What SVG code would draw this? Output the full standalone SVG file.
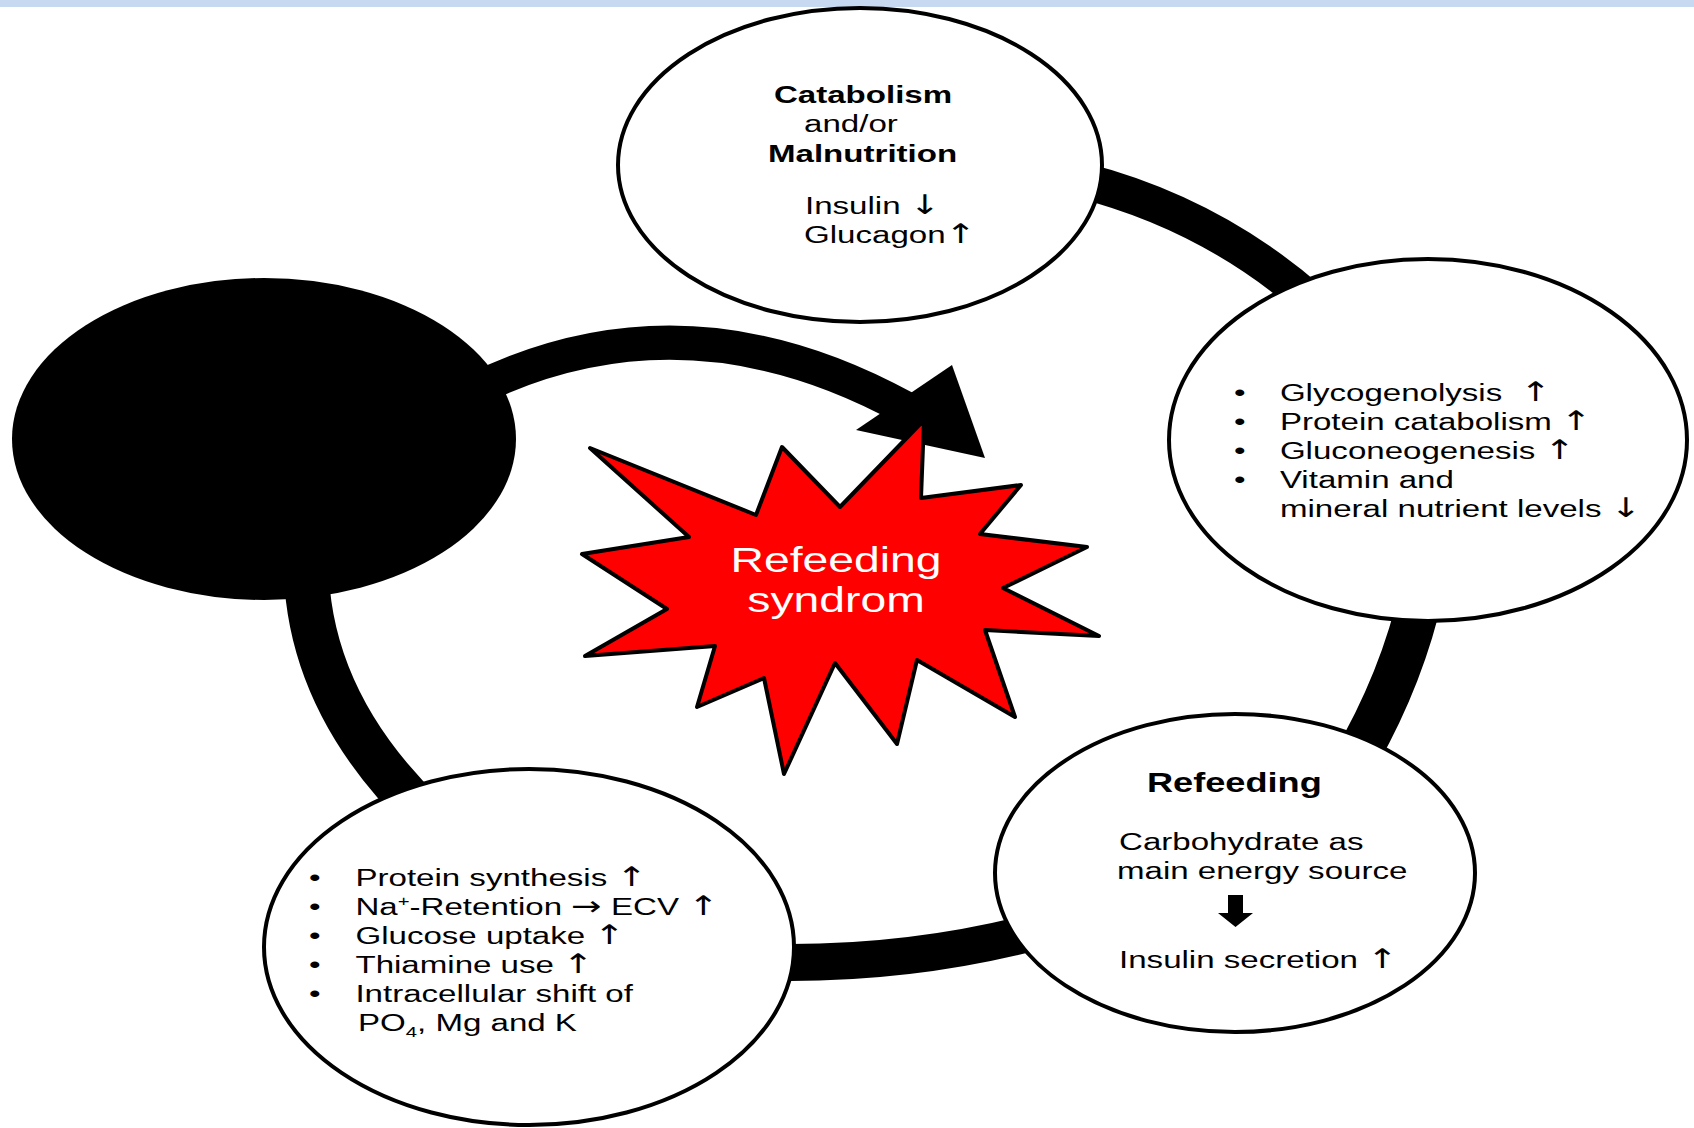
<svg xmlns="http://www.w3.org/2000/svg" width="1694" height="1128" viewBox="0 0 1694 1128">
<style>
.bg{fill:#ffffff}
.band{fill:#c6d9f1}
.conn{fill:none;stroke:#000;stroke-linecap:butt}
.ell{fill:#ffffff;stroke:#000;stroke-width:4}
.t{font-family:"Liberation Sans",Arial,sans-serif;font-size:24.5px;fill:#000}
.b{font-weight:bold}
.ar{font-family:"DejaVu Sans",sans-serif;font-size:27px}
.star{fill:#ff0000;stroke:#000;stroke-width:4;stroke-linejoin:round}
.st{font-family:"Liberation Sans",Arial,sans-serif;font-size:34.3px;fill:#ffffff;text-anchor:middle}
</style>
<rect class="bg" x="0" y="0" width="1694" height="1128"/>
<rect class="band" x="0" y="0" width="1694" height="7"/>

<g id="connectors">
  <path class="conn" stroke-width="36" d="M 1080,180 Q 1210,213 1310,300"/>
  <path class="conn" stroke-width="44" d="M 1422,590 Q 1402,680 1352,765"/>
  <path class="conn" stroke-width="37" d="M 760,962 Q 900,966 1030,933"/>
  <path class="conn" stroke-width="45" d="M 306,560 Q 306,700 425,815"/>
  <path class="conn" stroke-width="34" d="M 470,392 Q 682,286 905,408"/>
  <polygon fill="#000" points="952,365 985,458 856,430"/>
</g>

<g id="node-catabolism">
  <ellipse class="ell" cx="860" cy="165" rx="242" ry="157"/>
  <g transform="translate(768,0) scale(1.35,1)">
    <text class="t b" x="4.4" y="103">Catabolism</text>
    <text class="t" x="26.7" y="132">and/or</text>
    <text class="t b" x="0" y="162">Malnutrition</text>
    <text class="t" x="27.4" y="214">Insulin <tspan class="ar">↓</tspan></text>
    <text class="t" x="26.7" y="243">Glucagon<tspan class="ar">↑</tspan></text>
  </g>
</g>

<g id="node-effects">
  <ellipse class="ell" cx="1428" cy="440" rx="259" ry="181"/>
  <g transform="translate(1234,0) scale(1.35,1)">
    <text class="t" x="0" y="401.5">•</text>
    <text class="t" x="0" y="430.5">•</text>
    <text class="t" x="0" y="459.5">•</text>
    <text class="t" x="0" y="488.5">•</text>
    <text class="t" x="34" y="401.5">Glycogenolysis&#160; <tspan class="ar">↑</tspan></text>
    <text class="t" x="34" y="430.5">Protein catabolism <tspan class="ar">↑</tspan></text>
    <text class="t" x="34" y="459.5">Gluconeogenesis <tspan class="ar">↑</tspan></text>
    <text class="t" x="34" y="488.5">Vitamin and</text>
    <text class="t" x="34" y="517.5">mineral nutrient levels <tspan class="ar">↓</tspan></text>
  </g>
</g>

<g id="node-refeeding">
  <ellipse class="ell" cx="1235" cy="873" rx="240" ry="159"/>
  <g transform="translate(1117,0) scale(1.35,1)">
    <text class="t b" x="22.2" y="792" style="font-size:26.8px">Refeeding</text>
    <text class="t" x="1.5" y="850">Carbohydrate as</text>
    <text class="t" x="0" y="879">main energy source</text>
    <text class="t" x="1.5" y="968">Insulin secretion <tspan class="ar">↑</tspan></text>
  </g>
  <polygon fill="#000" points="1228,895 1243,895 1243,913 1253,913 1235.5,927 1218,913 1228,913"/>
</g>

<g id="node-consequences">
  <ellipse class="ell" cx="529" cy="947" rx="265" ry="178"/>
  <g transform="translate(309,0) scale(1.35,1)">
    <text class="t" x="0" y="886">•</text>
    <text class="t" x="0" y="915">•</text>
    <text class="t" x="0" y="944">•</text>
    <text class="t" x="0" y="973">•</text>
    <text class="t" x="0" y="1002">•</text>
    <text class="t" x="34.4" y="886">Protein synthesis <tspan class="ar">↑</tspan></text>
    <text class="t" x="34.4" y="915">Na<tspan dy="-9" style="font-size:15px">+</tspan><tspan dy="9">-Retention </tspan><tspan class="ar">→</tspan> ECV <tspan class="ar">↑</tspan></text>
    <text class="t" x="34.4" y="944">Glucose uptake <tspan class="ar">↑</tspan></text>
    <text class="t" x="34.4" y="973">Thiamine use <tspan class="ar">↑</tspan></text>
    <text class="t" x="34.4" y="1002">Intracellular shift of</text>
    <text class="t" x="36.3" y="1031">PO<tspan dy="6" style="font-size:15px">4</tspan><tspan dy="-6">, Mg and K</tspan></text>
  </g>
</g>

<g id="node-black">
  <ellipse cx="264" cy="439" rx="252" ry="161" fill="#000"/>
</g>

<g id="node-syndrom">
  <polygon class="star" points="590,448 756,515 782,447 840,507 924,420 921,498 1021,485 980,534 1087,547 1003,588 1099,636 985,630 1015,717 917,660 897,744 835,663 784,774 764,678 697,707 715,646 585,656 667,609 582,554 689,537"/>
  <g transform="translate(836,0) scale(1.35,1)">
    <text class="st" x="0" y="572">Refeeding</text>
    <text class="st" x="0" y="612">syndrom</text>
  </g>
</g>
</svg>
